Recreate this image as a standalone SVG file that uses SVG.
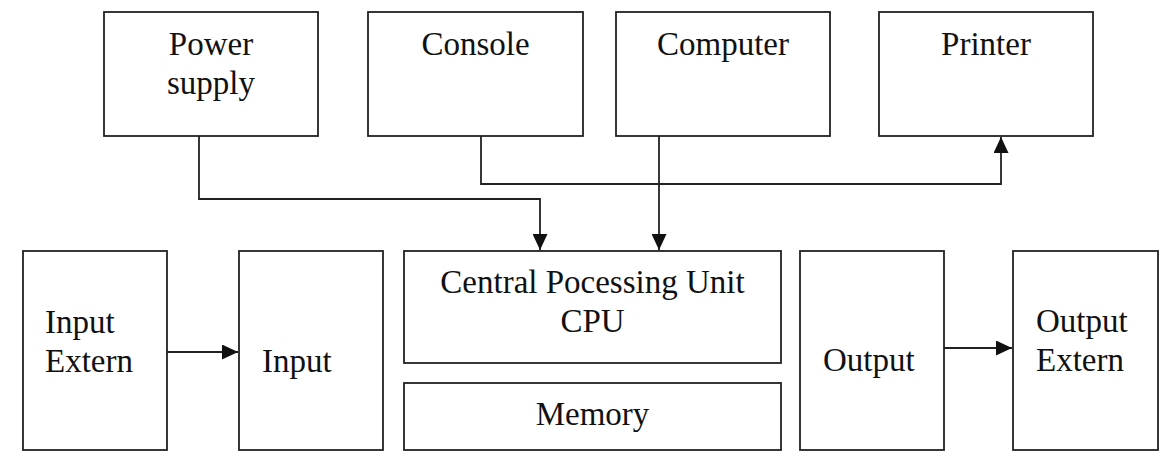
<svg xmlns="http://www.w3.org/2000/svg" width="1168" height="458" viewBox="0 0 1168 458">
<defs>
<style>
.box{fill:#fff;stroke:#222;stroke-width:1.8}
.t{font-family:"Liberation Serif","Times New Roman",serif;font-size:33px;fill:#111}
.c{text-anchor:middle}
.ln{fill:none;stroke:#222;stroke-width:1.8}
</style>
<marker id="arr" markerUnits="userSpaceOnUse" markerWidth="16" markerHeight="15" refX="16" refY="7.5" orient="auto">
<path d="M0,0 L16,7.5 L0,15 z" fill="#111"/>
</marker>
</defs>
<rect width="1168" height="458" fill="#fff"/>
<g id="power-supply"><rect class="box" x="104" y="12" width="214" height="124"/><text class="t c" x="211" y="55">Power</text><text class="t c" x="211" y="94">supply</text></g>
<g id="console"><rect class="box" x="368" y="12" width="215" height="124"/><text class="t c" x="475.5" y="55">Console</text></g>
<g id="computer"><rect class="box" x="616" y="12" width="214" height="124"/><text class="t c" x="723" y="55">Computer</text></g>
<g id="printer"><rect class="box" x="879" y="12" width="214" height="124"/><text class="t c" x="986" y="55">Printer</text></g>
<g id="input-extern"><rect class="box" x="23" y="251" width="144" height="199"/><text class="t" x="45" y="333">Input</text><text class="t" x="45" y="372">Extern</text></g>
<g id="input"><rect class="box" x="239" y="251" width="144" height="199"/><text class="t" x="262" y="372">Input</text></g>
<g id="cpu"><rect class="box" x="404" y="251" width="377" height="112"/><text class="t c" x="592.5" y="293">Central Pocessing Unit</text><text class="t c" x="592.5" y="332">CPU</text></g>
<g id="memory"><rect class="box" x="404" y="383" width="377" height="67"/><text class="t c" x="592.5" y="425">Memory</text></g>
<g id="output"><rect class="box" x="800" y="251" width="144" height="199"/><text class="t" x="823" y="371">Output</text></g>
<g id="output-extern"><rect class="box" x="1013" y="251" width="145" height="199"/><text class="t" x="1036" y="332">Output</text><text class="t" x="1036" y="371">Extern</text></g>
<g id="connectors">
<path class="ln" d="M199,136 V199 H540 V250" marker-end="url(#arr)"/>
<path class="ln" d="M659,136 V250" marker-end="url(#arr)"/>
<path class="ln" d="M481,136 V184 H1001 V137" marker-end="url(#arr)"/>
<path class="ln" d="M167,352 H238" marker-end="url(#arr)"/>
<path class="ln" d="M944,348 H1012" marker-end="url(#arr)"/>
</g>
</svg>
